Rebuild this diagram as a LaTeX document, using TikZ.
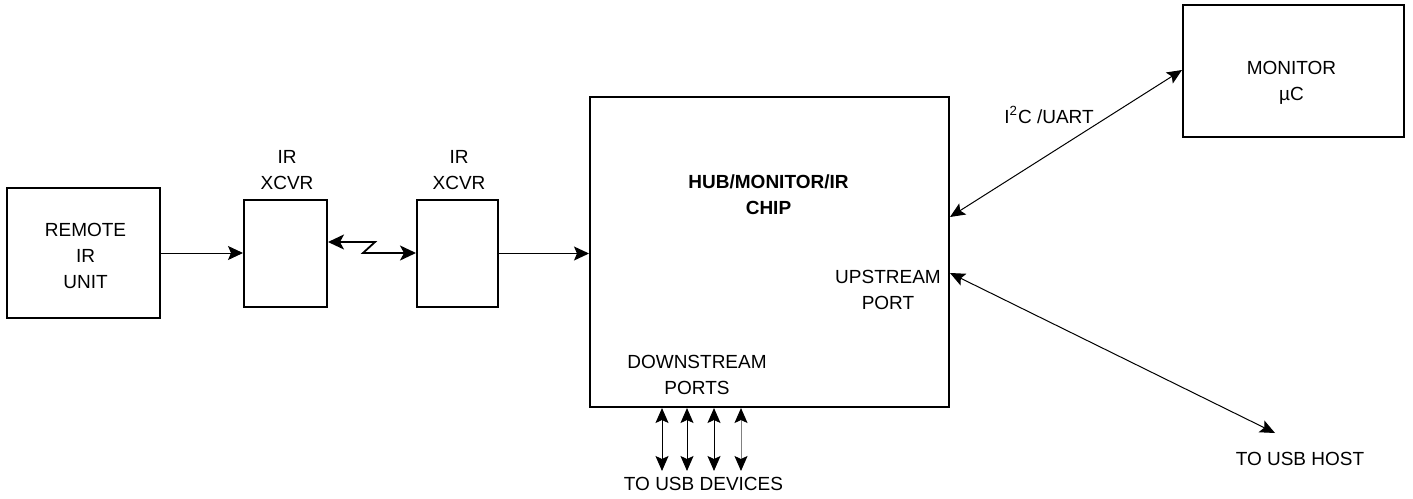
\documentclass[tikz,border=0pt]{standalone}
\usepackage{fontspec}
\setmainfont{Liberation Sans}
\usetikzlibrary{arrows.meta}
\begin{document}
\begin{tikzpicture}[x=0.5pt,y=-0.5pt,
  box/.style={draw, line width=1pt, inner sep=0pt},
  lbl/.style={inner sep=0pt, align=center, font=\fontsize{9.5}{13}\selectfont},
  conn/.style={line width=0.5pt, -{Stealth[length=7.5pt,width=7pt,inset=1.5pt]}},
  bconn/.style={line width=0.5pt, {Stealth[length=7.5pt,width=6.5pt,inset=1.5pt,color=black]}-{Stealth[length=7.5pt,width=6.5pt,inset=1.5pt,color=black]}},
  zconn/.style={line width=0.9pt, {Stealth[length=8pt,width=7.5pt,inset=2pt]}-{Stealth[length=8pt,width=7.5pt,inset=2pt]}},
]
\useasboundingbox (0,0) rectangle (1413,498);
% boxes
\node[box, minimum width=76.5pt, minimum height=65pt] (remote) at (83.5,253) {};
\node[box, minimum width=41.5pt, minimum height=53.5pt] (x1) at (285.5,253.5) {};
\node[box, minimum width=40.5pt, minimum height=53.5pt] (x2) at (457.5,253.5) {};
\node[box, minimum width=179.5pt, minimum height=155pt] (hub) at (769.5,252) {};
\node[box, minimum width=110.5pt, minimum height=66pt] (mon) at (1293.5,71) {};
% texts
\node[lbl] (remotet) at (85.5,255.5) {REMOTE\\IR\\UNIT};
\node[lbl] (x1t) at (287,170) {IR\\XCVR};
\node[lbl] (x2t) at (459,170) {IR\\XCVR};
\node[lbl, font=\fontsize{9.5}{13}\selectfont\bfseries] (hubt) at (768.5,195) {HUB/MONITOR/IR\\CHIP};
\node[lbl] (upt) at (888,290) {UPSTREAM\\PORT};
\node[lbl] (downt) at (697,374.5) {DOWNSTREAM\\PORTS};
\node[lbl] (mont) at (1291.5,83) {MONITOR\\µC};
\node[lbl] (i2ct) at (1049,115) {I\textsuperscript{2}C /UART};
\node[lbl] (hostt) at (1300,458.5) {TO USB HOST};
\node[lbl] (devt) at (703.5,483.5) {TO USB DEVICES};
% connectors
\draw[conn] (remote.east) -- (remote.east -| x1.west);
\coordinate (z1) at (375,242);
\coordinate (z2) at (363,253);
\draw[zconn] ([yshift=5.75pt]x1.east) -- (z1) -- (z2) -- (z2 -| x2.west);
\draw[conn] (x2.east) -- (x2.east -| hub.west);
\draw[bconn] ([yshift=17.5pt]hub.east) -- ([yshift=0.5pt]mon.west);
\coordinate (host) at (1275,433);
\draw[bconn] ([yshift=-10.5pt]hub.east) -- (host);
\coordinate (d1) at (662,471);
\coordinate (d2) at (687,471);
\coordinate (d3) at (714,471);
\coordinate (d4) at (741,471);
\foreach \d in {d1,d2,d3}
  \draw[bconn] (\d |- hub.south) -- (\d);
\draw[bconn, draw=black!50] (d4 |- hub.south) -- (d4);
\end{tikzpicture}
\end{document}
